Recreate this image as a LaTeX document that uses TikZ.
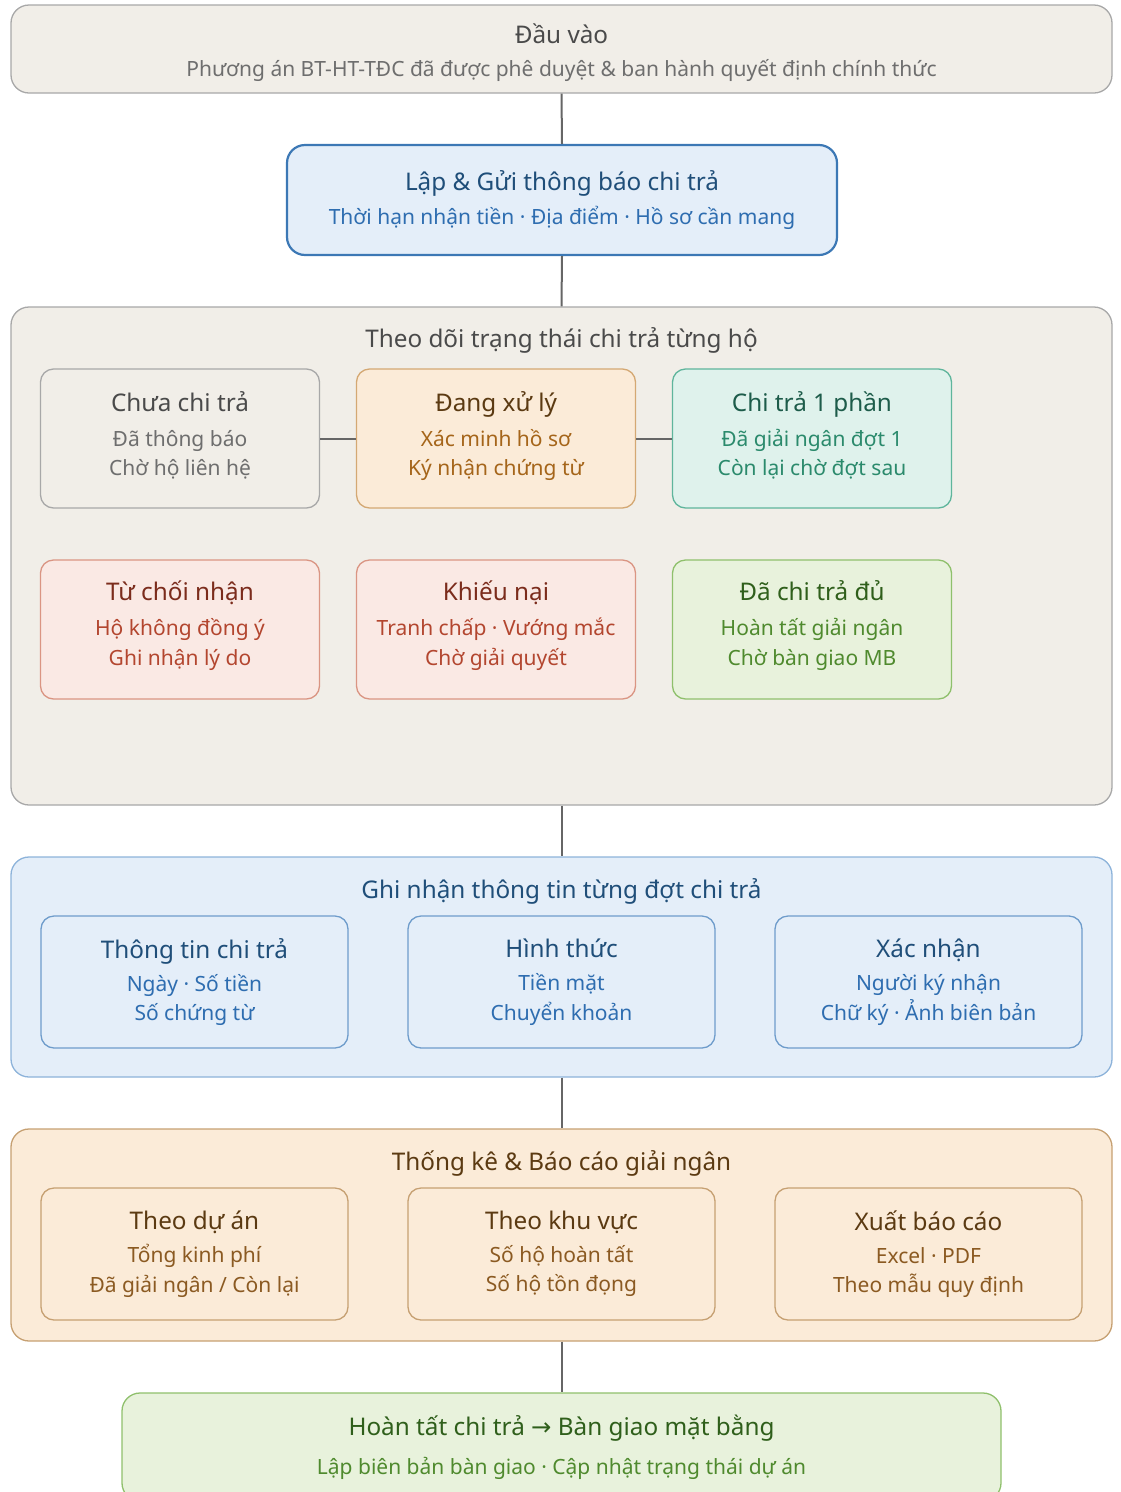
\documentclass[tikz,border=0pt]{standalone}
\usepackage{fontspec}
\setmainfont{Noto Sans}
\newfontfamily\symfont{DejaVu Sans}
\usepackage{xcolor}
\usepackage{tikz}
\usetikzlibrary{positioning}

\definecolor{greyfill}{HTML}{F1EEE8}
\definecolor{greyline}{HTML}{A8A8A8}
\definecolor{greytitle}{HTML}{4A4A4A}
\definecolor{greysub}{HTML}{6E6E6E}
\definecolor{bluefill}{HTML}{E4EEF9}
\definecolor{blueline}{HTML}{3C78B5}
\definecolor{bluegrp}{HTML}{8DB3DA}
\definecolor{bluecard}{HTML}{6E9CCB}
\definecolor{bluetitle}{HTML}{1F4E79}
\definecolor{bluesub}{HTML}{2E6DB0}
\definecolor{orangefill}{HTML}{FBEBD8}
\definecolor{orangeline}{HTML}{D4A873}
\definecolor{orangetitle}{HTML}{5B3A12}
\definecolor{orangesub}{HTML}{A5651A}
\definecolor{statline}{HTML}{C6A072}
\definecolor{statsub}{HTML}{8B5A22}
\definecolor{tealfill}{HTML}{DFF2EC}
\definecolor{tealline}{HTML}{5FB59C}
\definecolor{tealtitle}{HTML}{1D5C4A}
\definecolor{tealsub}{HTML}{2B8A6C}
\definecolor{redfill}{HTML}{FAE9E4}
\definecolor{redline}{HTML}{DA9583}
\definecolor{redtitle}{HTML}{7B2C1C}
\definecolor{redsub}{HTML}{B3462F}
\definecolor{greenfill}{HTML}{E8F2DC}
\definecolor{greenline}{HTML}{8FC06C}
\definecolor{greentitle}{HTML}{2F5F1B}
\definecolor{greensub}{HTML}{4F8A2E}
\definecolor{connc}{HTML}{666666}

\begin{document}
\begin{tikzpicture}[x=1pt, y=-1pt,
  every node/.style={align=center, inner sep=0pt, font=\fontsize{21}{29.5}\selectfont},
  grp/.style={rectangle, rounded corners=18pt, line width=1.3pt},
  card/.style={rectangle, rounded corners=13pt, line width=1.3pt, minimum width=279pt, minimum height=139pt},
  rec/.style={rectangle, rounded corners=13pt, line width=1.3pt, minimum width=307pt, minimum height=132pt},
  grey/.style={draw=greyline, fill=greyfill, text=greysub},
  blue/.style={draw=bluecard, fill=bluefill, text=bluesub},
  orange/.style={draw=orangeline, fill=orangefill, text=orangesub},
  stat/.style={draw=statline, fill=orangefill, text=statsub},
  teal/.style={draw=tealline, fill=tealfill, text=tealsub},
  red/.style={draw=redline, fill=redfill, text=redsub},
  green/.style={draw=greenline, fill=greenfill, text=greensub},
  conn/.style={draw=connc, line width=2pt},
]
  \useasboundingbox (0,0) rectangle (1121,1492);
  \clip (0,0) rectangle (1121,1492);

  % input and notice
  \node[grp, grey, minimum width=1101pt, minimum height=88pt] (input) at (561.5,49) {
    {\color{greytitle}\fontsize{24.3}{28}\selectfont Đầu vào\rule{0pt}{28pt}}\\[3.5pt]
    Phương án BT-HT-TĐC đã được phê duyệt \& ban hành quyết định chính thức
  };
  \node[grp, draw=blueline, fill=bluefill, text=bluesub, line width=2.2pt,
        minimum width=550pt, minimum height=110pt] (notice) at (562,200) {
    {\color{bluetitle}\fontsize{24.3}{28}\selectfont Lập \& Gửi thông báo chi trả}\\[4.5pt]
    Thời hạn nhận tiền · Địa điểm · Hồ sơ cần mang
  };

  % status tracking
  \node[grp, grey, minimum width=1101pt, minimum height=498pt] (track) at (561.5,556) {};
  \node[text=greytitle, font=\fontsize{24.3}{28}\selectfont] (tracktitle) at (561.5,340) {Theo dõi trạng thái chi trả từng hộ};

  \node[card, grey] (chua) at (180,438.5) {
    {\color{greytitle}\fontsize{24.3}{28}\selectfont Chưa chi trả}\\[5.5pt]
    Đã thông báo\\
    Chờ hộ liên hệ\rule[-10pt]{0pt}{0pt}
  };
  \node[card, orange] (dang) [right=35.7pt of chua] {
    {\color{orangetitle}\fontsize{24.3}{28}\selectfont Đang xử lý}\\[5.5pt]
    Xác minh hồ sơ\\
    Ký nhận chứng từ\rule[-10pt]{0pt}{0pt}
  };
  \node[card, teal] (motphan) [right=35.7pt of dang] {
    {\color{tealtitle}\fontsize{24.3}{28}\selectfont Chi trả 1 phần}\\[5.5pt]
    Đã giải ngân đợt 1\\
    Còn lại chờ đợt sau\rule[-10pt]{0pt}{0pt}
  };
  \node[card, red] (tuchoi) [below=50.7pt of chua] {
    {\color{redtitle}\fontsize{24.3}{28}\selectfont Từ chối nhận}\\[5.5pt]
    Hộ không đồng ý\\
    Ghi nhận lý do\rule[-13pt]{0pt}{0pt}
  };
  \node[card, red] (khieunai) [right=35.7pt of tuchoi] {
    {\color{redtitle}\fontsize{24.3}{28}\selectfont Khiếu nại}\\[5.5pt]
    Tranh chấp · Vướng mắc\\
    Chờ giải quyết\rule[-13pt]{0pt}{0pt}
  };
  \node[card, green] (du) [right=35.7pt of khieunai] {
    {\color{greentitle}\fontsize{24.3}{28}\selectfont Đã chi trả đủ}\\[5.5pt]
    Hoàn tất giải ngân\\
    Chờ bàn giao MB\rule[-13pt]{0pt}{0pt}
  };

  % record each payment
  \node[grp, draw=bluegrp, fill=bluefill, minimum width=1101pt, minimum height=220pt] (record) at (561.5,967) {};
  \node[text=bluetitle, font=\fontsize{24.3}{28}\selectfont] (recordtitle) at (561.5,891) {Ghi nhận thông tin từng đợt chi trả};

  \node[rec, blue] (thongtin) at (194.5,982) {
    {\color{bluetitle}\fontsize{24.3}{28}\selectfont Thông tin chi trả}\\[3.5pt]
    Ngày · Số tiền\\
    Số chứng từ
  };
  \node[rec, blue] (hinhthuc) [right=58.7pt of thongtin] {
    {\color{bluetitle}\fontsize{24.3}{28}\selectfont Hình thức}\\[3.5pt]
    Tiền mặt\\
    Chuyển khoản
  };
  \node[rec, blue] (xacnhan) [right=58.7pt of hinhthuc] {
    {\color{bluetitle}\fontsize{24.3}{28}\selectfont Xác nhận}\\[3.5pt]
    Người ký nhận\\
    Chữ ký · Ảnh biên bản
  };

  % statistics
  \node[grp, draw=statline, fill=orangefill, minimum width=1101pt, minimum height=212pt] (stats) at (561.5,1235) {};
  \node[text=orangetitle, font=\fontsize{24.3}{28}\selectfont] (statstitle) at (561.5,1163) {Thống kê \& Báo cáo giải ngân};

  \node[rec, stat] (duan) at (194.5,1254) {
    {\color{orangetitle}\fontsize{24.3}{28}\selectfont Theo dự án}\\[3.5pt]
    Tổng kinh phí\\
    Đã giải ngân / Còn lại
  };
  \node[rec, stat] (khuvuc) [right=58.7pt of duan] {
    {\color{orangetitle}\fontsize{24.3}{28}\selectfont Theo khu vực}\\[3.5pt]
    Số hộ hoàn tất\\
    Số hộ tồn đọng
  };
  \node[rec, stat] (xuat) [right=58.7pt of khuvuc] {
    {\color{orangetitle}\fontsize{24.3}{28}\selectfont Xuất báo cáo}\\[3.5pt]
    Excel · PDF\\
    Theo mẫu quy định
  };

  % handover
  \node[grp, green, minimum width=879pt, minimum height=108pt] (handover) at (561.5,1447) {
    {\color{greentitle}\fontsize{24.3}{28}\selectfont Hoàn tất chi trả {\symfont →} Bàn giao mặt bằng}\\[9.5pt]
    Lập biên bản bàn giao · Cập nhật trạng thái dự án
  };

  \draw[conn] (input.south) -- (notice.north);
  \draw[conn] (notice.south) -- (track.north);
  \draw[conn] (chua.east) -- (dang.west);
  \draw[conn] (dang.east) -- (motphan.west);
  \draw[conn] (track.south) -- (record.north);
  \draw[conn] (record.south) -- (stats.north);
  \draw[conn] (stats.south) -- (handover.north);
\end{tikzpicture}
\end{document}
